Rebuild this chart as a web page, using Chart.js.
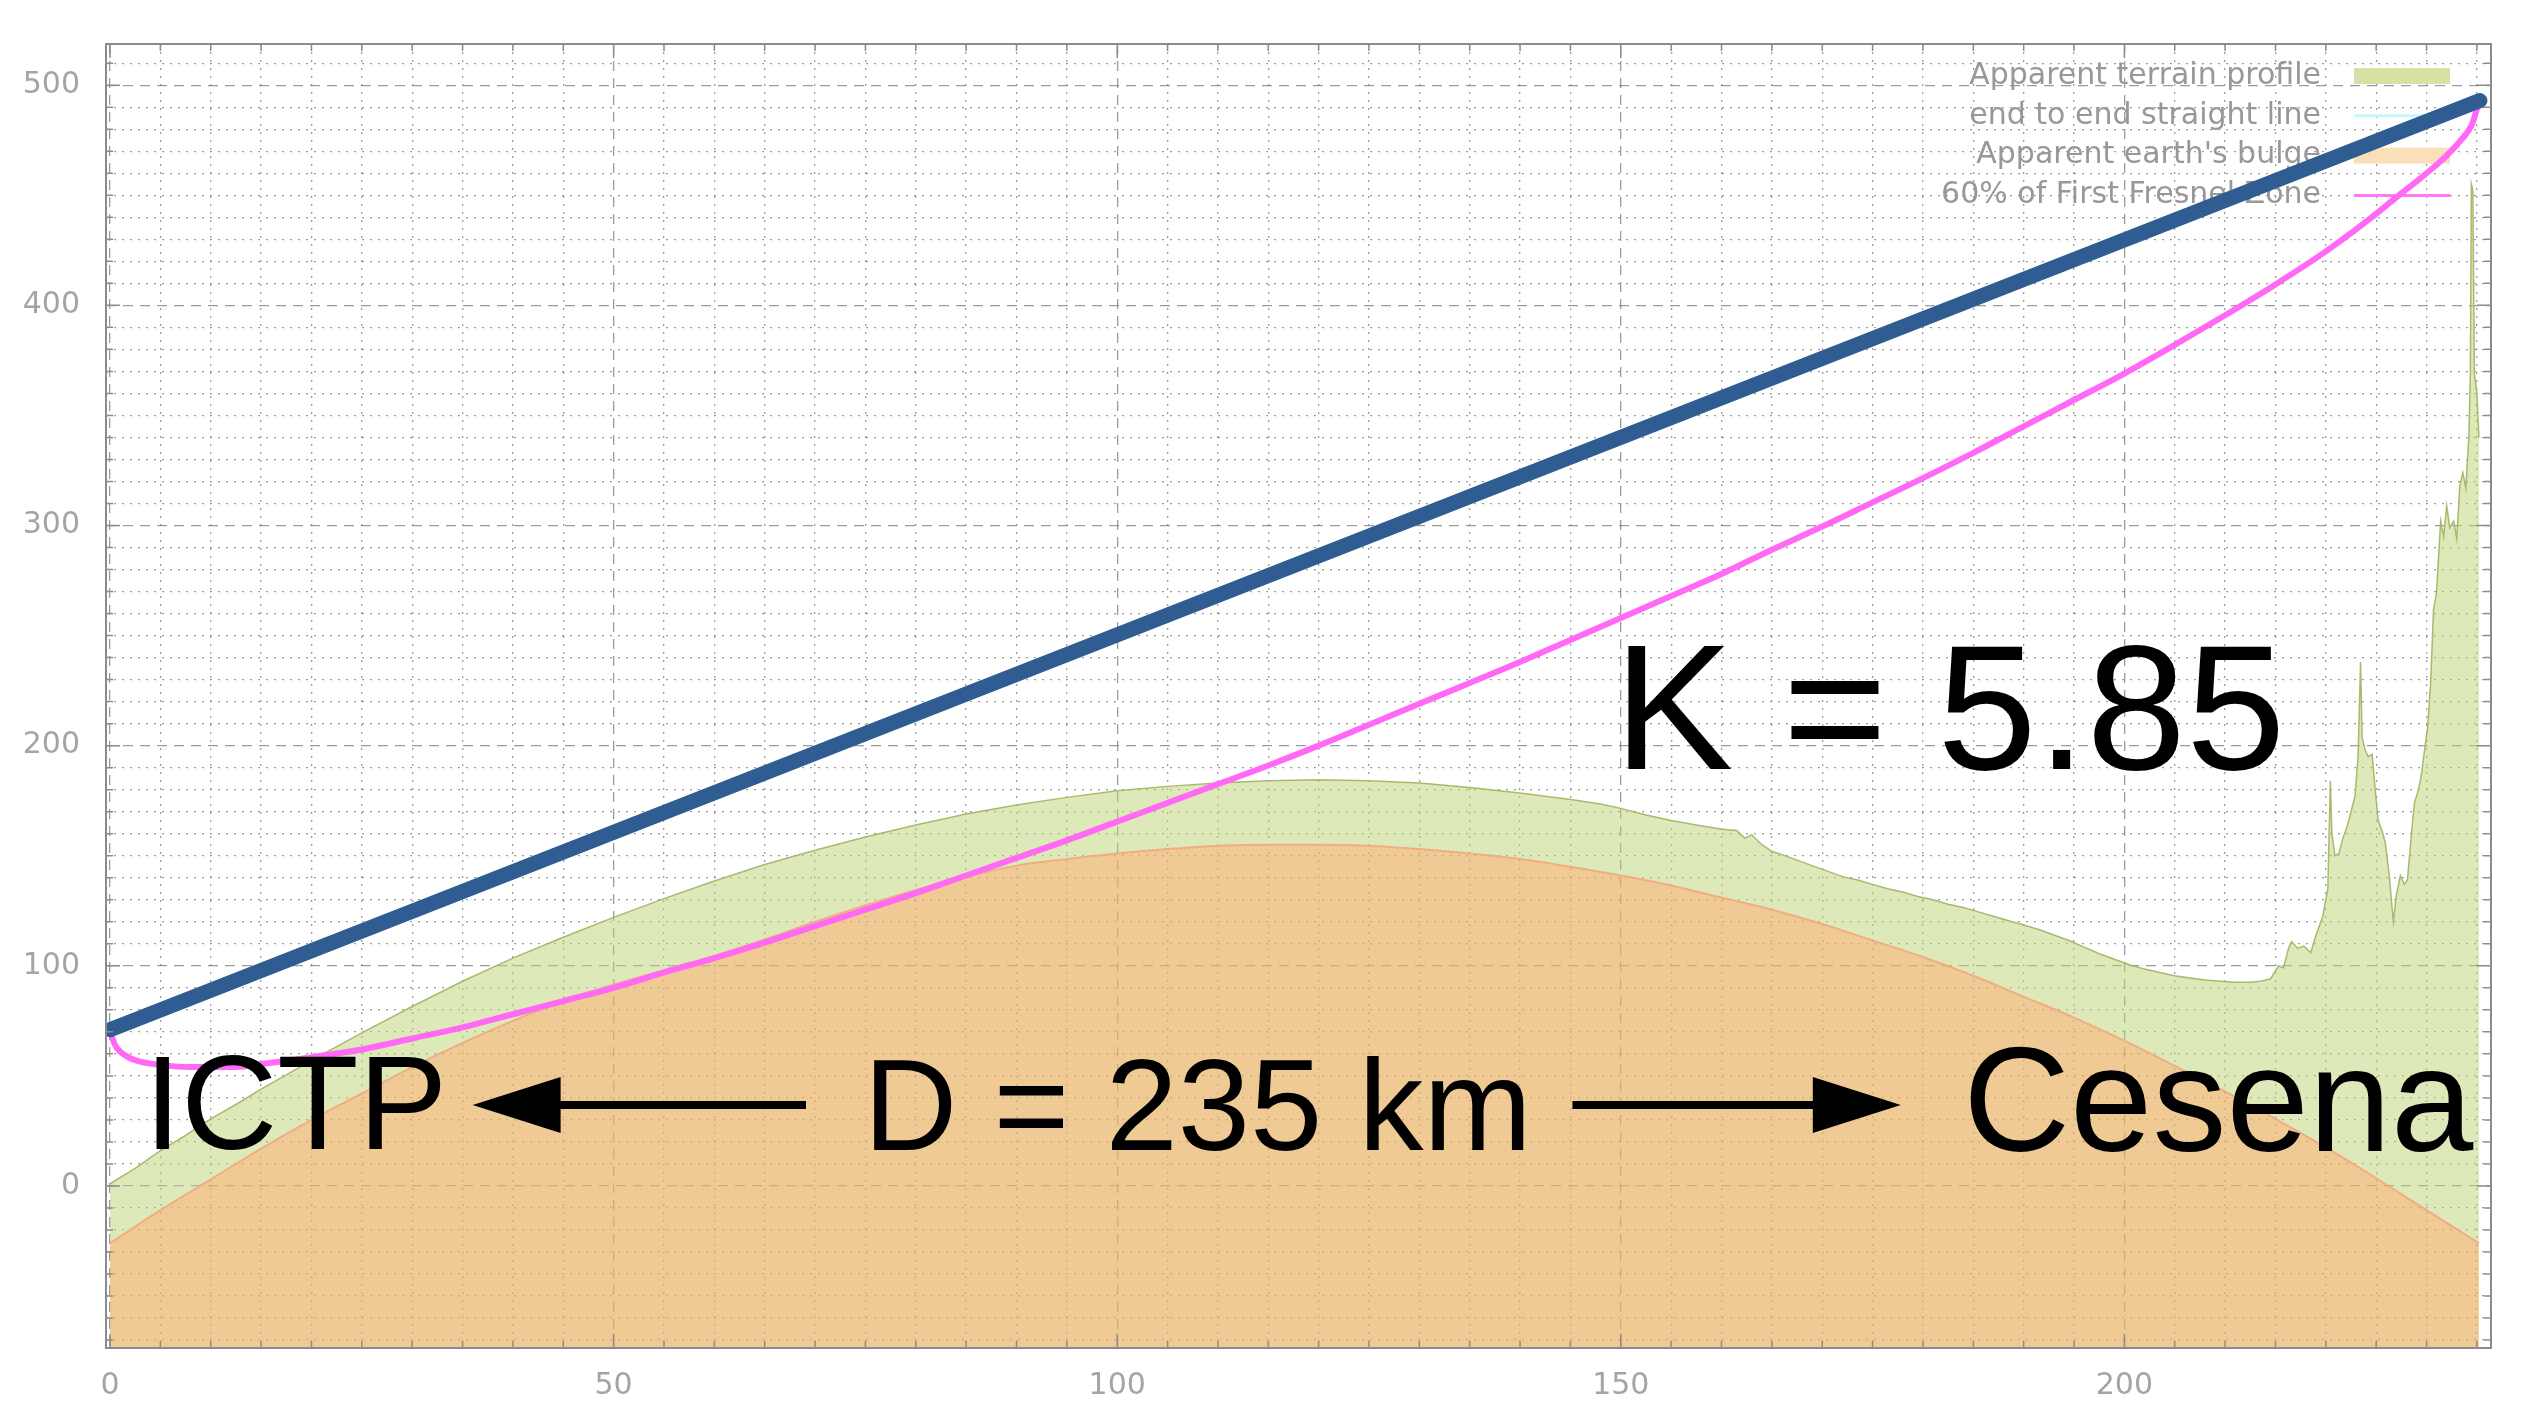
<!DOCTYPE html>
<html>
<head>
<meta charset="utf-8">
<title>ICTP - Cesena path profile</title>
<script src="https://cdn.jsdelivr.net/npm/chart.js@4.4.1/dist/chart.umd.min.js"></script>
<style>
  html, body { margin: 0; padding: 0; background: #fff; }
</style>
</head>
<body>
<canvas id="profile" width="2528" height="1424"></canvas>
<script>
/**
 * Values: distance along the path (km) and height (m)
 */
const terrainKm = [0, 2.5, 5, 7.5, 10, 12.5, 15, 17.5, 20, 25, 30, 35, 40, 45, 50, 55, 60, 65, 70, 75,
  80, 85, 90, 95, 100, 105, 110, 115, 120, 125, 130, 135, 140, 145, 148, 150, 152.5, 155, 157.5, 160,
  161.5, 162.3, 163, 164, 165, 166, 167.5, 169, 170.5, 172, 173.5, 175, 176.5, 178, 179.5, 181, 182.5,
  184, 185.5, 187, 188.5, 190, 191.5, 193, 194.5, 196, 197.5, 199, 200.5, 202, 203.5, 205, 206.5, 208,
  209.5, 211, 212.5, 213.5, 214.5, 215.3, 215.8, 216.3, 216.6, 217.2, 217.8, 218.5, 219, 219.7, 220.2,
  220.45, 220.6, 220.9, 221.3, 221.7, 222.1, 222.5, 222.9, 223.2, 223.45, 223.6, 223.9, 224.2, 224.6,
  224.9, 225.2, 225.6, 225.9, 226.3, 226.7, 227, 227.4, 227.8, 228.1, 228.5, 228.8, 229.2, 229.5, 229.8,
  230.1, 230.4, 230.7, 231, 231.4, 231.7, 232, 232.3, 232.7, 233, 233.3, 233.6, 233.9, 234.2, 234.35,
  234.45, 234.6, 234.75, 235, 235.2];
const terrainM = [1, 8, 16, 23, 30.5, 37, 44, 50.5, 57, 69.5, 81.5, 93, 103.5, 113, 122, 130.5, 138.5, 146, 152.5, 158.5,
  164, 169, 173, 176.5, 179.5, 181.5, 183, 184, 184.5, 184, 183, 181, 178.5, 175.5, 173.5, 171.5, 168.5, 166, 164, 162,
  161.5, 158, 159.5, 155, 152, 150.5, 148, 145.5, 143, 140.5, 139, 137, 135, 133.5, 131.5, 130, 128,
  126.5, 124.5, 122.5, 120.5, 118.5, 116.5, 114, 111.5, 108.5, 105.5, 103, 100.5, 98.5, 97, 95.5, 94.5, 93.5,
  93, 92.5, 92.5, 93, 94, 100, 99, 108, 111, 108, 109, 106, 113.5, 122.5, 135,
  184, 160, 150, 151, 158, 163, 170, 177, 195, 238, 204, 198, 195, 196,
  180, 166, 161, 156, 141, 120, 132, 141, 137, 139, 160, 174, 180, 187, 198,
  208, 228, 262, 270, 302, 295, 309, 299, 302, 294, 318, 324, 317, 340, 369,
  455, 452, 369, 360, 340];

const lineKm = [0, 235.3];
const lineM = [71, 493];

const bulgeKm = [0, 5, 10, 15, 20, 25, 30, 35, 40, 45, 50, 55, 60, 65, 70, 75, 80, 85, 90, 95, 100, 105,
  110, 115, 120, 125, 130, 135, 140, 145, 150, 155, 160, 165, 170, 175, 180, 185, 190, 195, 200, 205,
  210, 215, 220, 225, 230, 235.2];
const bulgeM = [-26, -11, 3, 17, 30, 42, 54, 65, 75, 84, 91.5, 98, 104.5, 112, 120, 127.5, 134.5, 140.5, 145.5, 148.5, 151, 153,
  154.5, 155, 155, 154.5, 153, 151, 148.5, 145, 141, 136.5, 131, 125.5, 119, 111.5, 104, 95.5, 86, 76.5, 66, 54.5,
  43, 30.5, 17.5, 3.5, -11, -26];

const fresnelKm = [0, 0.5, 1, 2, 3, 5, 8, 12, 16, 20, 25, 30, 35, 40, 45, 50, 55, 60, 65, 70, 75, 80, 85,
  90, 95, 100, 105, 110, 115, 120, 125, 130, 135, 140, 145, 150, 155, 160, 165, 170, 175, 180, 185, 190,
  195, 200, 205, 210, 215, 220, 224, 227, 230, 232, 233.5, 234.5, 235, 235.3];
const fresnelM = [70.5, 64, 61, 58, 56.5, 55, 54, 54, 56, 58.5, 62, 67, 72, 78, 84, 90, 97, 103.5, 110.5, 118, 125.5, 133, 141,
  149, 157, 165.5, 174, 182.5, 191, 200, 209.5, 219, 228.5, 238, 248, 258, 268, 278, 289, 299.5, 310.5, 321.5, 333, 345,
  357, 369, 382, 395.5, 409.5, 424.5, 438, 449, 460, 468, 475.5, 482, 489, 492];

const seriesNames = ['Apparent terrain profile', 'end to end straight line', 'Apparent earth\'s bulge', '60% of First Fresnel Zone'];

const xTickLabels = [0, 50, 100, 150, 200];
const yTickLabels = [0, 100, 200, 300, 400, 500];

/**
 * Pairs two arrays into {x, y} points for the linear x axis
 */
function toPoints (xs, ys) {
  return xs.map((x, i) => ({ x: x, y: ys[i] }));
}

Chart.defaults.font.family = '"DejaVu Sans", sans-serif';

/**
 * Legend drawn inside the plot, under the lines (the lines cross it in the picture)
 */
const insideLegend = {
  id: 'insideLegend',
  beforeDatasetsDraw (chart) {
    const { ctx, chartArea: a } = chart;
    const swatches = [
      { type: 'box', color: 'rgb(214, 226, 164)' },
      { type: 'line', color: 'rgb(196, 250, 246)' },
      { type: 'box', color: 'rgb(250, 224, 184)' },
      { type: 'line', color: 'rgb(255, 120, 250)' }
    ];
    ctx.save();
    ctx.font = '30px "DejaVu Sans", sans-serif';
    ctx.textAlign = 'right';
    ctx.textBaseline = 'middle';
    seriesNames.forEach((name, i) => {
      const yc = a.top + 32 + i * 39.8;
      ctx.fillStyle = '#989898';
      ctx.fillText(name, a.right - 170, yc);
      const s = swatches[i];
      if (s.type === 'box') {
        ctx.fillStyle = s.color;
        ctx.fillRect(a.right - 137, yc - 8, 96, 16);
      } else {
        ctx.strokeStyle = s.color;
        ctx.lineWidth = 3;
        ctx.beginPath();
        ctx.moveTo(a.right - 137, yc);
        ctx.lineTo(a.right - 41, yc);
        ctx.stroke();
      }
    });
    ctx.restore();
  }
};

/**
 * Border box with inward ticks on all four sides, then the big annotations
 */
const frameAndNotes = {
  id: 'frameAndNotes',
  afterDraw (chart) {
    const { ctx, chartArea: a, scales: { x, y } } = chart;
    ctx.save();
    ctx.strokeStyle = '#8c8c8c';
    ctx.lineWidth = 1.5;
    ctx.beginPath();
    x.ticks.forEach(t => {
      const px = x.getPixelForValue(t.value);
      const len = xTickLabels.includes(t.value) ? 14 : 7;
      ctx.moveTo(px, a.bottom); ctx.lineTo(px, a.bottom - len);
      ctx.moveTo(px, a.top); ctx.lineTo(px, a.top + len);
    });
    y.ticks.forEach(t => {
      const py = y.getPixelForValue(t.value);
      const len = yTickLabels.includes(t.value) ? 14 : 7;
      ctx.moveTo(a.left, py); ctx.lineTo(a.left + len, py);
      ctx.moveTo(a.right, py); ctx.lineTo(a.right - len, py);
    });
    ctx.stroke();
    ctx.lineWidth = 2;
    ctx.strokeRect(a.left, a.top, a.right - a.left, a.bottom - a.top);

    // text placed at (km, m) positions
    const notes = [
      { text: 'ICTP', km: 3.4, m: 16.7, size: 133 },
      { text: 'D = 235 km', km: 74.8, m: 16.3, size: 130 },
      { text: 'Cesena', km: 184, m: 15.8, size: 148 },
      { text: 'K = 5.85', km: 149.3, m: 189.6, size: 179 }
    ];
    ctx.fillStyle = '#000';
    ctx.textAlign = 'left';
    ctx.textBaseline = 'alphabetic';
    notes.forEach(n => {
      ctx.font = n.size + 'px "Liberation Sans", Arial, sans-serif';
      ctx.fillText(n.text, x.getPixelForValue(n.km), y.getPixelForValue(n.m));
    });

    // two arrows: shaft start km, tip km
    const arrows = [[69.1, 36.0], [145.2, 177.8]];
    const ay = y.getPixelForValue(36.8);
    arrows.forEach(([fromKm, tipKm]) => {
      const x0 = x.getPixelForValue(fromKm);
      const x1 = x.getPixelForValue(tipKm);
      const dir = Math.sign(x1 - x0);
      const headLen = 88;
      ctx.strokeStyle = '#000';
      ctx.lineWidth = 8;
      ctx.beginPath();
      ctx.moveTo(x0, ay);
      ctx.lineTo(x1 - dir * headLen * 0.8, ay);
      ctx.stroke();
      ctx.beginPath();
      ctx.moveTo(x1, ay);
      ctx.lineTo(x1 - dir * headLen, ay - 28);
      ctx.lineTo(x1 - dir * headLen, ay + 28);
      ctx.closePath();
      ctx.fill();
    });
    ctx.restore();
  }
};

const data = {
  datasets: [{
    label: seriesNames[0],
    data: toPoints(terrainKm, terrainM),
    borderColor: 'rgba(160, 180, 100, 0.9)',
    borderWidth: 1.5,
    backgroundColor: 'rgba(190, 212, 120, 0.52)',
    fill: 2,
    order: 4
  },
  {
    label: seriesNames[1],
    data: toPoints(lineKm, lineM),
    borderColor: 'rgb(47, 93, 146)',
    borderWidth: 15,
    borderCapStyle: 'round',
    fill: false,
    order: 1
  },
  {
    label: seriesNames[2],
    data: toPoints(bulgeKm, bulgeM),
    borderColor: 'rgba(242, 168, 128, 0.9)',
    borderWidth: 2,
    backgroundColor: 'rgba(232, 180, 102, 0.7)',
    fill: 'start',
    cubicInterpolationMode: 'monotone',
    order: 3
  },
  {
    label: seriesNames[3],
    data: toPoints(fresnelKm, fresnelM),
    borderColor: 'rgb(255, 105, 245)',
    borderWidth: 6,
    fill: false,
    cubicInterpolationMode: 'monotone',
    order: 2
  }]
};

const gridDash = (ctx, majors) => majors.includes(ctx.tick.value) ? [10, 7] : [2, 6];

const config = {
  type: 'line',
  data: data,
  options: {
    responsive: false,
    devicePixelRatio: 1,
    animation: false,
    elements: { point: { radius: 0 }, line: { tension: 0 } },
    layout: { padding: { top: 36, right: 37, left: 0, bottom: 0 } },
    plugins: {
      legend: { display: false },
      tooltip: { enabled: false }
    },
    scales: {
      x: {
        type: 'linear',
        min: -0.4,
        max: 236.4,
        afterFit: scale => { scale.height = 76; },
        grid: { color: 'rgba(130, 130, 130, 0.8)', lineWidth: 1.3, drawTicks: false },
        border: { display: false, dash: ctx => gridDash(ctx, xTickLabels) },
        ticks: {
          stepSize: 5,
          includeBounds: false,
          autoSkip: false,
          maxRotation: 0,
          padding: 20,
          color: '#a4a4a4',
          font: { size: 30 },
          callback: v => xTickLabels.includes(v) ? String(v) : ''
        }
      },
      y: {
        min: -73.6,
        max: 518.7,
        afterFit: scale => { scale.width = 106; },
        grid: { color: 'rgba(130, 130, 130, 0.8)', lineWidth: 1.3, drawTicks: false },
        border: { display: false, dash: ctx => gridDash(ctx, yTickLabels) },
        ticks: {
          stepSize: 10,
          includeBounds: false,
          autoSkip: false,
          padding: 26,
          color: '#a4a4a4',
          font: { size: 30 },
          callback: v => yTickLabels.includes(v) ? String(v) : ''
        }
      }
    }
  },
  plugins: [insideLegend, frameAndNotes]
};

const profileChart = new Chart(document.getElementById('profile'), config);
</script>
</body>
</html>
